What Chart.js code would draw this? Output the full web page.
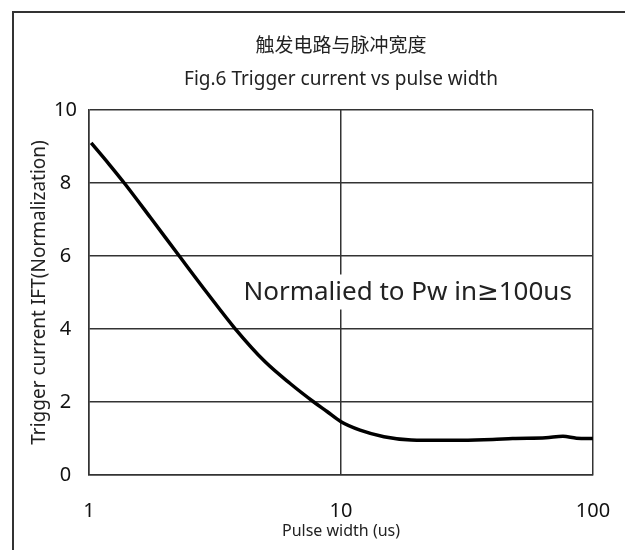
<!DOCTYPE html>
<html>
<head>
<meta charset="utf-8">
<script src="https://cdn.jsdelivr.net/npm/chart.js@4.4.1/dist/chart.umd.min.js"></script>
<style>
  html, body { margin: 0; padding: 0; background: #fff; }
  canvas { display: block; }
</style>
</head>
<body>
<canvas id="pulseChart" width="625" height="550"></canvas>
<script>
// --- Chart data ---
const titleZh = '触发电路与脉冲宽度';
const titleEn = 'Fig.6 Trigger current vs pulse width';
const xTitle = 'Pulse width (us)';
const yTitle = 'Trigger current IFT(Normalization)';
const noteText = 'Normalied to Pw in≥100us';

const pulseWidth = [1.02, 1.2, 1.38, 1.75, 2.27, 2.95, 3.79, 5.0, 6.3, 7.8, 8.8, 10, 11.9, 14.8, 19, 25, 30, 40, 48, 65, 76, 86, 100];
const triggerCurrent = [9.1, 8.52, 8.0, 7.06, 6.02, 4.98, 4.02, 3.1, 2.5, 2.0, 1.74, 1.46, 1.23, 1.05, 0.96, 0.95, 0.95, 0.97, 1.0, 1.02, 1.06, 1.01, 1.0];
const xTickValues = [1, 10, 100];
const noteAt = { x: 4.1, y: 5.0 };

const FONT = "'Noto Sans', 'Noto Sans CJK SC', sans-serif";

// outer frame around the whole figure
const framePlugin = {
    id: 'frame',
    beforeDraw(chart) {
        const ctx = chart.ctx;
        ctx.save();
        ctx.fillStyle = '#fff';
        ctx.fillRect(0, 0, chart.width, chart.height);
        ctx.strokeStyle = '#333';
        ctx.lineWidth = 2;
        ctx.strokeRect(13, 12, chart.width + 20, chart.height + 20);
        ctx.restore();
    }
};

// the "Normalied to..." note, placed in data coordinates
const notePlugin = {
    id: 'note',
    beforeDatasetsDraw(chart) {
        const ctx = chart.ctx;
        const x = chart.scales.x.getPixelForValue(noteAt.x);
        const y = chart.scales.y.getPixelForValue(noteAt.y);
        ctx.save();
        ctx.font = "26px 'Noto Sans', 'DejaVu Sans', sans-serif";
        const w = ctx.measureText(noteText).width;
        ctx.fillStyle = '#fff';
        ctx.fillRect(x - 3, y - 18, w + 6, 35);
        ctx.fillStyle = '#222';
        ctx.textAlign = 'left';
        ctx.textBaseline = 'middle';
        ctx.fillText(noteText, x, y);
        ctx.restore();
    }
};

const ctx = document.getElementById('pulseChart').getContext('2d');
new Chart(ctx, {
    type: 'line',
    data: {
        datasets: [{
            data: pulseWidth.map((v, i) => ({ x: v, y: triggerCurrent[i] })),
            borderColor: '#000',
            borderWidth: 3.5,
            pointRadius: 0,
            fill: false,
            cubicInterpolationMode: 'monotone'
        }]
    },
    options: {
        responsive: false,
        animation: false,
        layout: { padding: { top: 12, left: 12, right: 32, bottom: 0 } },
        plugins: {
            legend: { display: false },
            tooltip: { enabled: false },
            title: {
                display: true,
                text: titleZh,
                fullSize: false,
                color: '#222',
                font: { family: FONT, size: 19, weight: 'normal' },
                padding: { top: 23.6, bottom: 4 }
            },
            subtitle: {
                display: true,
                text: titleEn,
                fullSize: false,
                color: '#222',
                font: { family: FONT, size: 19, weight: 'normal' },
                padding: { top: 6.2, bottom: 18.6 }
            }
        },
        scales: {
            x: {
                type: 'logarithmic',
                min: 1,
                max: 100,
                afterBuildTicks: s => { s.ticks = xTickValues.map(v => ({ value: v })); },
                afterFit: s => {
                    s.height = 75;
                    // tick padding is vertical here, keep it out of the side margins
                    s.paddingLeft = 10;
                    s.paddingRight = 20;
                },
                ticks: {
                    callback: v => String(v),
                    color: '#111',
                    font: { family: FONT, size: 20 },
                    padding: 24,
                    maxRotation: 0,
                    autoSkip: false
                },
                grid: { color: '#333', lineWidth: 1.5, drawTicks: false },
                border: { color: '#333', width: 1.5 },
                title: {
                    display: true,
                    text: xTitle,
                    color: '#222',
                    font: { family: FONT, size: 16 },
                    padding: { top: 0, bottom: 9 }
                }
            },
            y: {
                min: 0,
                max: 10,
                afterFit: s => { s.width = 77; },
                ticks: {
                    stepSize: 2,
                    color: '#111',
                    font: { family: FONT, size: 20 },
                    padding: 12,
                    crossAlign: 'center'
                },
                grid: { color: '#333', lineWidth: 1.5, drawTicks: false },
                border: { color: '#333', width: 1.5 },
                title: {
                    display: true,
                    text: yTitle,
                    color: '#222',
                    font: { family: FONT, size: 19 },
                    padding: { top: 16, bottom: 0 }
                }
            }
        }
    },
    plugins: [framePlugin, notePlugin]
});
</script>
</body>
</html>
